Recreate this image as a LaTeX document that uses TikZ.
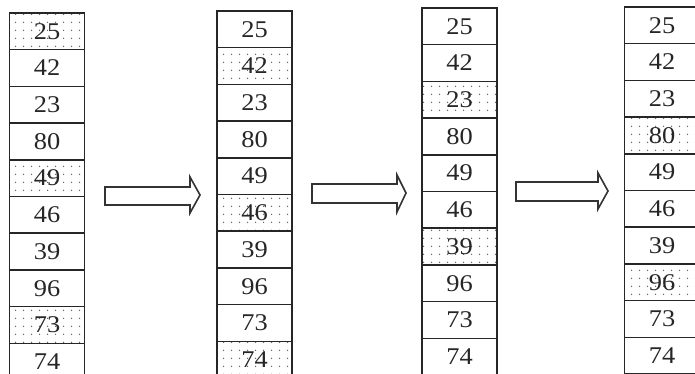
\documentclass[tikz,border=0pt]{standalone}
\usepackage{fontspec}
\setmainfont{Liberation Serif}
\newfontfamily\cellfont[FakeStretch=1.1]{Liberation Serif}
\usetikzlibrary{patterns.meta}

\tikzset{
	cell/.style={draw=black!85, line width=0.8pt, rectangle, inner sep=0pt,
		minimum width=37.5pt, minimum height=18.35pt,
		font=\cellfont\fontsize{12}{13}\selectfont, text=black!85},
	plaincell/.style={},
	dotcell/.style={pattern={Dots[distance=4pt,radius=0.4pt]}, pattern color=black!65},
	blockarrow/.style={draw=black!80, line width=0.8pt, line join=miter}
}

\begin{document}
\begin{tikzpicture}[x=0.5pt, y=-0.5pt]
		%%%%% START %%%%%
		
		\useasboundingbox (0, 0) rectangle (695, 374);
		\clip (0, 0) rectangle (695, 374);
		
		% first column
		\foreach \v/\s [count=\i from 0] in {25/dotcell, 42/plaincell, 23/plaincell, 80/plaincell, 49/dotcell, 46/plaincell, 39/plaincell, 96/plaincell, 73/dotcell, 74/plaincell}
			\node[cell, \s] (a\i) at (47, 13 + 36.7*\i + 18.35) {\v};
		
		% second column
		\foreach \v/\s [count=\i from 0] in {25/plaincell, 42/dotcell, 23/plaincell, 80/plaincell, 49/plaincell, 46/dotcell, 39/plaincell, 96/plaincell, 73/plaincell, 74/dotcell}
			\node[cell, \s] (b\i) at (254.5, 11 + 36.7*\i + 18.35) {\v};
		
		% third column
		\foreach \v/\s [count=\i from 0] in {25/plaincell, 42/plaincell, 23/dotcell, 80/plaincell, 49/plaincell, 46/plaincell, 39/dotcell, 96/plaincell, 73/plaincell, 74/plaincell}
			\node[cell, \s] (c\i) at (459.5, 8 + 36.7*\i + 18.35) {\v};
		
		% fourth column
		\foreach \v/\s [count=\i from 0] in {25/plaincell, 42/plaincell, 23/plaincell, 80/dotcell, 49/plaincell, 46/plaincell, 39/plaincell, 96/dotcell, 73/plaincell, 74/plaincell}
			\node[cell, \s] (d\i) at (662, 7 + 36.7*\i + 18.35) {\v};
		
		% hollow arrows between the columns
		\draw[blockarrow] (105, 187) -- (190, 187) -- (190, 177) -- (200, 195) -- (190, 213) -- (190, 205) -- (105, 205) -- cycle;
		\draw[blockarrow] (312, 184) -- (397, 184) -- (397, 175) -- (406, 193) -- (397, 212) -- (397, 203) -- (312, 203) -- cycle;
		\draw[blockarrow] (516, 182) -- (598, 182) -- (598, 173) -- (608, 191) -- (598, 209) -- (598, 201) -- (516, 201) -- cycle;
		
		%%%%% END %%%%%
	\end{tikzpicture}
\end{document}
